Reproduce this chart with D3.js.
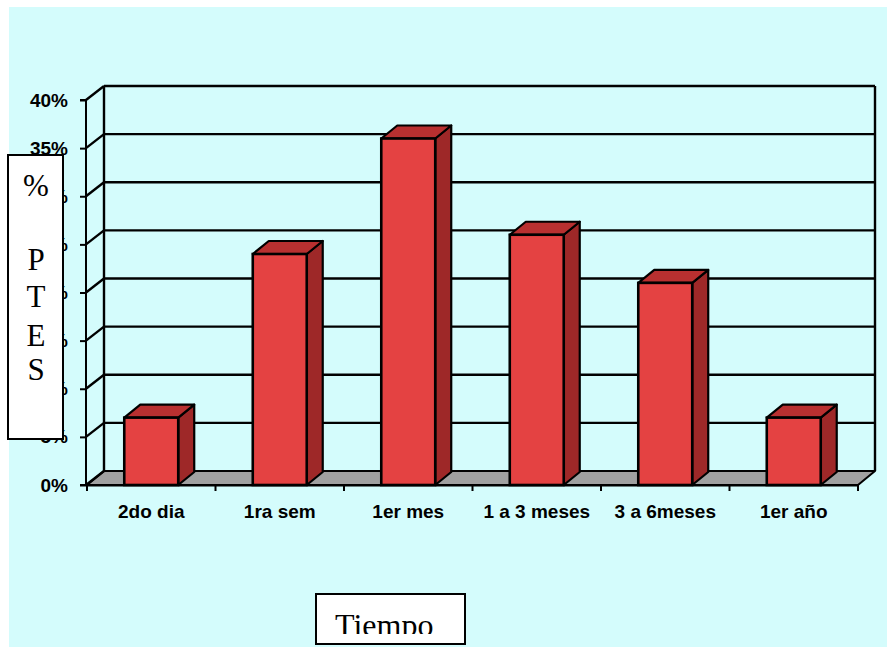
<!DOCTYPE html>
<html>
<head>
<meta charset="utf-8">
<title>Tiempo</title>
<script src="https://d3js.org/d3.v7.min.js"></script>
<style>
  body { margin: 0; background: #fff; }
</style>
</head>
<body>
<div id="chart"></div>
<script>

let categories = ["2do dia", "1ra sem", "1er mes", "1 a 3 meses", "3 a 6meses", "1er año"];
let values = [0.07, 0.24, 0.36, 0.26, 0.21, 0.07];
let yTicks = [0, 0.05, 0.10, 0.15, 0.20, 0.25, 0.30, 0.35, 0.40];
let yLabelLetters = ["%", "P", "T", "E", "S"];

let W = 887, H = 647;
let depth = {dx: 17, dy: -14};
let barDepth = {dx: 16, dy: -13};

let svg = d3.select("#chart").append("svg")
    .attr("width", W)
    .attr("height", H);

// background
svg.append("rect")
    .attr("x", 9).attr("y", 7)
    .attr("width", W - 9).attr("height", H - 7)
    .attr("fill", "#d4fcfc");

let x = d3.scaleBand()
    .domain(categories)
    .range([87, 858])
    .padding(0);

let y = d3.scaleLinear()
    .domain([0, 0.40])
    .range([485, 100]);

let x0 = x.range()[0], x1 = x.range()[1];

// floor
svg.append("path")
    .attr("d", "M" + x0 + "," + y(0) +
        "L" + (x0 + depth.dx) + "," + (y(0) + depth.dy) +
        "L" + (x1 + depth.dx) + "," + (y(0) + depth.dy) +
        "L" + x1 + "," + y(0) + "Z")
    .attr("fill", "#a0a0a0")
    .attr("stroke", "#000")
    .attr("stroke-width", 2)
    .attr("stroke-linejoin", "round");

// gridlines on back wall + side wall diagonals
let grid = svg.append("g").attr("stroke", "#000").attr("stroke-width", 2.4).attr("fill", "none");

grid.selectAll(".back")
    .data(yTicks.slice(1))
    .enter().append("line")
    .attr("x1", x0 + depth.dx).attr("x2", x1 + depth.dx)
    .attr("y1", d => y(d) + depth.dy).attr("y2", d => y(d) + depth.dy);

grid.selectAll(".side")
    .data(yTicks)
    .enter().append("line")
    .attr("x1", x0 - 1).attr("x2", x0 + depth.dx)
    .attr("y1", d => y(d)).attr("y2", d => y(d) + depth.dy);

// back wall verticals
grid.append("line")
    .attr("x1", x0 + depth.dx).attr("x2", x0 + depth.dx)
    .attr("y1", y(0) + depth.dy).attr("y2", y(0.40) + depth.dy);
grid.append("line")
    .attr("x1", x1 + depth.dx).attr("x2", x1 + depth.dx)
    .attr("y1", y(0) + depth.dy).attr("y2", y(0.40) + depth.dy);

// y axis (front)
let yAxis = d3.axisLeft(y)
    .tickValues(yTicks)
    .tickSize(6)
    .tickPadding(12)
    .tickFormat(d3.format(".0%"));

let gy = svg.append("g")
    .attr("transform", "translate(" + (x0 - 1) + ",0)")
    .call(yAxis);
gy.select(".domain").attr("stroke", "#000").attr("stroke-width", 2).attr("d", "M-6," + y(0.40) + "H0V" + y(0) + "H-6");
gy.selectAll(".tick line").attr("stroke", "#000").attr("stroke-width", 2);
gy.selectAll(".tick text")
    .attr("font-family", "Liberation Sans, Arial, sans-serif")
    .attr("font-weight", "bold")
    .attr("font-size", "19px")
    .attr("fill", "#000");

// x axis (front)
let xAxis = d3.axisBottom(x)
    .tickSize(0)
    .tickPadding(20);

let gx = svg.append("g")
    .attr("transform", "translate(0," + y(0) + ")")
    .call(xAxis);
gx.select(".domain").attr("stroke", "#000").attr("stroke-width", 2);
gx.selectAll(".tick text")
    .attr("font-family", "Liberation Sans, Arial, sans-serif")
    .attr("font-weight", "bold")
    .attr("font-size", "19px")
    .attr("fill", "#000");

// tick marks at category boundaries
gx.selectAll(".sep")
    .data(categories.map(c => x(c)).concat([x1]))
    .enter().append("line")
    .attr("x1", d => d).attr("x2", d => d)
    .attr("y1", 0).attr("y2", 6)
    .attr("stroke", "#000").attr("stroke-width", 2);

// bars
let bw = x.bandwidth() * 0.42;
let bars = svg.append("g").selectAll("g")
    .data(categories.map((c, i) => ({c: c, v: values[i]})))
    .enter().append("g");

function bx(d) { return x(d.c) + (x.bandwidth() - bw) / 2; }

bars.append("path") // side
    .attr("d", d => {
        let l = bx(d) + bw, t = y(d.v), b = y(0);
        return "M" + l + "," + b + "L" + l + "," + t +
            "L" + (l + barDepth.dx) + "," + (t + barDepth.dy) +
            "L" + (l + barDepth.dx) + "," + (b + barDepth.dy) + "Z";
    })
    .attr("fill", "#9e2828");

bars.append("path") // top
    .attr("d", d => {
        let l = bx(d), t = y(d.v);
        return "M" + l + "," + t + "L" + (l + barDepth.dx) + "," + (t + barDepth.dy) +
            "L" + (l + bw + barDepth.dx) + "," + (t + barDepth.dy) +
            "L" + (l + bw) + "," + t + "Z";
    })
    .attr("fill", "#b83030");

bars.selectAll("path")
    .attr("stroke", "#000").attr("stroke-width", 2.2).attr("stroke-linejoin", "round");

bars.append("rect") // front
    .attr("x", d => bx(d))
    .attr("y", d => y(d.v))
    .attr("width", bw)
    .attr("height", d => y(0) - y(d.v))
    .attr("fill", "#e44242")
    .attr("stroke", "#000")
    .attr("stroke-width", 2.6);

// y axis title box
svg.append("rect")
    .attr("x", 8).attr("y", 155)
    .attr("width", 55).attr("height", 284)
    .attr("fill", "#fff")
    .attr("stroke", "#000")
    .attr("stroke-width", 2);

let letterY = [196, 270, 307, 346, 380];
svg.append("g").selectAll("text")
    .data(yLabelLetters)
    .enter().append("text")
    .attr("x", 36)
    .attr("y", (d, i) => letterY[i])
    .attr("text-anchor", "middle")
    .attr("font-family", "Liberation Serif, Times New Roman, serif")
    .attr("font-size", "31px")
    .attr("fill", "#000")
    .text(d => d);

// x axis title box
svg.append("defs").append("clipPath").attr("id", "tclip")
    .append("rect").attr("x", 316).attr("y", 594).attr("width", 149).attr("height", 40);

svg.append("rect")
    .attr("x", 316).attr("y", 594)
    .attr("width", 149).attr("height", 50)
    .attr("fill", "#fff")
    .attr("stroke", "#000")
    .attr("stroke-width", 2);

svg.append("text")
    .attr("x", 335)
    .attr("y", 636)
    .attr("clip-path", "url(#tclip)")
    .attr("font-family", "Liberation Serif, Times New Roman, serif")
    .attr("font-size", "32px")
    .attr("fill", "#000")
    .text("Tiempo");

</script>
</body>
</html>
